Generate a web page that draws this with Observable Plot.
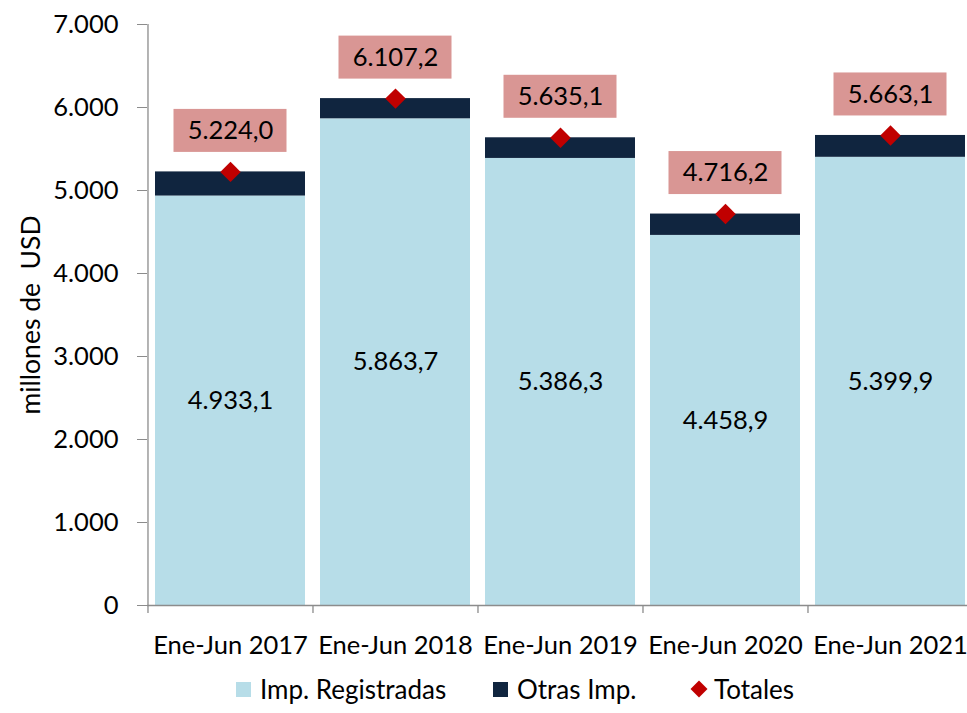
<!DOCTYPE html>
<html>
<head>
<meta charset="utf-8">
<script src="https://cdn.jsdelivr.net/npm/d3@7"></script>
<script src="https://cdn.jsdelivr.net/npm/@observablehq/plot@0.6"></script>
<style>
  body { margin: 0; background: #fff; font-family: Lato, "Open Sans", sans-serif; }
  #chart svg { display: block; overflow: hidden; }
  #legend { position: relative; font-size: 26px; height: 48px; }
  .item { position: absolute; top: 0; height: 48px; display: flex; align-items: center; white-space: nowrap; }
  .sw { width: 15px; height: 15px; margin-right: 9px; }
  .dia { width: 12px; height: 12px; background: #c00000; transform: rotate(45deg); margin-right: 9px; margin-left: 2px; }
</style>
</head>
<body>
<div id="chart"></div>
<div id="legend"></div>
<script>
const periods = ["Ene-Jun 2017", "Ene-Jun 2018", "Ene-Jun 2019", "Ene-Jun 2020", "Ene-Jun 2021"];
const registradas = [4933.1, 5863.7, 5386.3, 4458.9, 5399.9];
const totales = [5224.0, 6107.2, 5635.1, 4716.2, 5663.1];
const yTicks = [0, 1000, 2000, 3000, 4000, 5000, 6000, 7000];
const seriesNames = ["Imp. Registradas", "Otras Imp.", "Totales"];
const colors = ["#b7dde8", "#10253f", "#c00000"];
const yLabel = "millones de\u00a0 USD";

const loc = d3.formatLocale({decimal: ",", thousands: ".", grouping: [3], currency: ["", ""]});
const f1 = loc.format(",.1f");
const f0 = loc.format(",.0f");

const rows = periods.map((p, i) => ({period: p, reg: registradas[i], tot: totales[i]}));
const stacked = [];
rows.forEach(r => {
  stacked.push({period: r.period, series: seriesNames[0], y1: 0, y2: r.reg});
  stacked.push({period: r.period, series: seriesNames[1], y1: r.reg, y2: r.tot});
});

const W = 967, H = 665, mL = 147, mR = -5, mT = 24, mB = 60;
const pIn = 0.091, pOut = 0.045;
const step = (W - mL - mR) / (periods.length - pIn + 2 * pOut);
const font = "Lato, 'Open Sans', sans-serif";
const fs = 25.5;

const plot = Plot.plot({
  width: W, height: H,
  marginLeft: mL, marginRight: mR, marginTop: mT, marginBottom: mB,
  style: {fontFamily: font, fontSize: fs + "px", background: "#fff", color: "#000"},
  x: {domain: periods, paddingInner: pIn, paddingOuter: pOut, align: 0.5, axis: null},
  y: {domain: [0, 7000], axis: null},
  color: {domain: seriesNames.slice(0, 2), range: colors.slice(0, 2)},
  marks: [
    Plot.barY(stacked, {x: "period", y1: "y1", y2: "y2", fill: "series"}),
    Plot.ruleY([0], {stroke: "#8c8c8c", strokeWidth: 1.3}),
    Plot.ruleX([periods[0]], {x: d => d, y1: 0, y2: 7000, dx: -step / 2, stroke: "#8c8c8c", strokeWidth: 1.3}),
    Plot.ruleX(periods, {x: d => d, y1: 0, y2: 0, insetBottom: -8, dx: -step / 2, stroke: "#8c8c8c", strokeWidth: 1.3}),
    Plot.axisY(yTicks, {
      anchor: "left", tickSize: 10, tickPadding: 19, stroke: "#8c8c8c", fill: "#000",
      tickFormat: f0, fontSize: fs, label: null
    }),
    Plot.text([yLabel], {frameAnchor: "left", textAnchor: "middle", lineAnchor: "middle", dx: -116, rotate: -90, text: d => d, fontSize: 26.5, fill: "#000"}),
    Plot.axisX({anchor: "bottom", tickSize: 0, tickPadding: 30, fontSize: fs, label: null, fill: "#000"}),
    Plot.text(rows, {x: "period", y: d => d.reg / 2, text: d => f1(d.reg), fontSize: fs, fill: "#000"}),
    Plot.barY(rows, {x: "period", y1: "tot", y2: "tot", insetTop: -21.5, insetBottom: -21.5, insetLeft: 18.5, insetRight: 18.5, dy: -41, fill: "#d99694"}),
    Plot.text(rows, {x: "period", y: "tot", dy: -41, text: d => f1(d.tot), fontSize: fs, fill: "#000"}),
    Plot.dot(rows, {x: "period", y: "tot", symbol: "diamond2", r: 9.2, fill: colors[2], stroke: "none"})
  ]
});
document.getElementById("chart").appendChild(plot);

const legendX = [236, 493, 691];
const legend = document.getElementById("legend");
seriesNames.forEach((n, i) => {
  const it = document.createElement("div");
  it.className = "item";
  it.style.left = legendX[i] + "px";
  const sw = document.createElement("div");
  if (i < 2) { sw.className = "sw"; sw.style.background = colors[i]; }
  else { sw.className = "dia"; }
  const t = document.createElement("span");
  t.textContent = n;
  it.appendChild(sw); it.appendChild(t);
  legend.appendChild(it);
});
</script>
</body>
</html>
